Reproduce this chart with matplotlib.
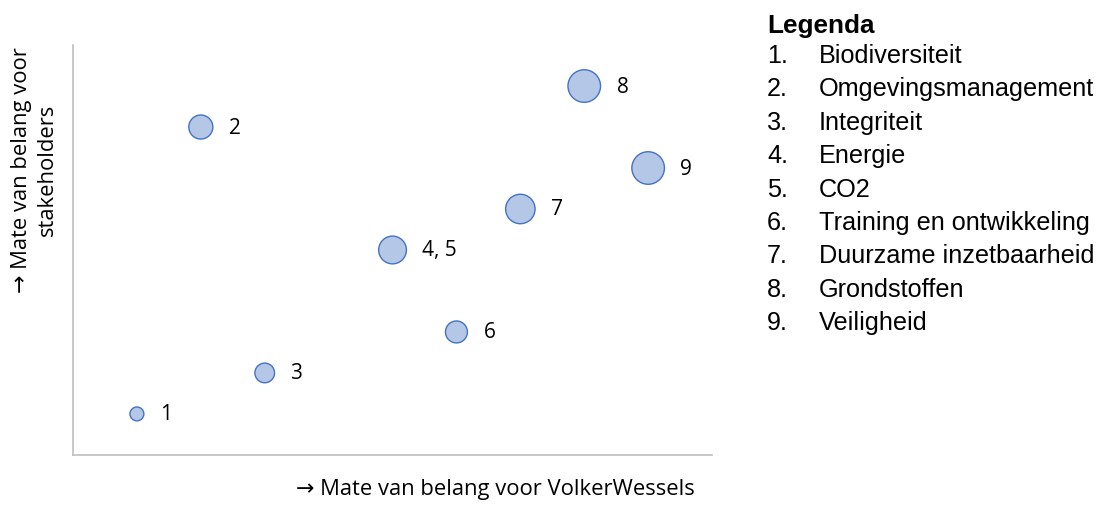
import matplotlib.pyplot as plt

# bubble data
labels = ['1', '2', '3', '4, 5', '6', '7', '8', '9']
xVals = [1, 2, 3, 5, 6, 7, 8, 9]
yVals = [1, 8, 2, 5, 3, 6, 9, 7]
sizes = [2, 6, 4, 8, 5, 9, 11, 11]

legendNums = ['1.', '2.', '3.', '4.', '5.', '6.', '7.', '8.', '9.']
legendNames = ['Biodiversiteit', 'Omgevingsmanagement', 'Integriteit', 'Energie', 'CO2',
               'Training en ontwikkeling', 'Duurzame inzetbaarheid', 'Grondstoffen', 'Veiligheid']

calibriLike = ['Open Sans', 'DejaVu Sans']
arialLike = ['Liberation Sans', 'DejaVu Sans']

fig = plt.figure(figsize=(10.98, 5.06), dpi=100)
ax = fig.add_axes([0.0665, 0.099, 0.582, 0.81])

scale = 50  # points^2 per size unit
ax.scatter(xVals, yVals, s=[v * scale for v in sizes], color='#B4C7E7',
           edgecolor='#4472C4', linewidth=1.0, zorder=3)
for x, y, lab, v in zip(xVals, yVals, labels, sizes):
    r = (v * scale) ** 0.5 / 2  # marker radius in points
    ax.annotate(lab, (x, y), xytext=(r + 11.5, 0), textcoords='offset points',
                ha='left', va='center', fontsize=15, family=calibriLike, color='black')

ax.set_xlim(0, 10)
ax.set_ylim(0, 10)
ax.set_xticks([])
ax.set_yticks([])
for side in ['top', 'right']:
    ax.spines[side].set_visible(False)
for side in ['left', 'bottom']:
    ax.spines[side].set_color('#BFBFBF')
    ax.spines[side].set_linewidth(1.2)

fig.text(495 / 1098, 1 - 490 / 506, '\u2192 Mate van belang voor VolkerWessels',
         ha='center', va='center', fontsize=15.8, family=calibriLike)
fig.text(34 / 1098, 1 - 170 / 506, '\u2192 Mate van belang voor\nstakeholders',
         ha='center', va='center', rotation=90, fontsize=15.8, family=calibriLike,
         linespacing=1.3)

# legend block
fig.text(767 / 1098, 1 - 33 / 506, 'Legenda', ha='left', va='baseline',
         fontsize=18.8, fontweight='bold', family=arialLike)
for i, (num, name) in enumerate(zip(legendNums, legendNames)):
    yy = 1 - (63 + i * 33.4) / 506
    fig.text(767 / 1098, yy, num, ha='left', va='baseline', fontsize=18.2, family=arialLike)
    fig.text(819 / 1098, yy, name, ha='left', va='baseline', fontsize=18.2, family=arialLike)

plt.savefig('out.png', dpi=100)
